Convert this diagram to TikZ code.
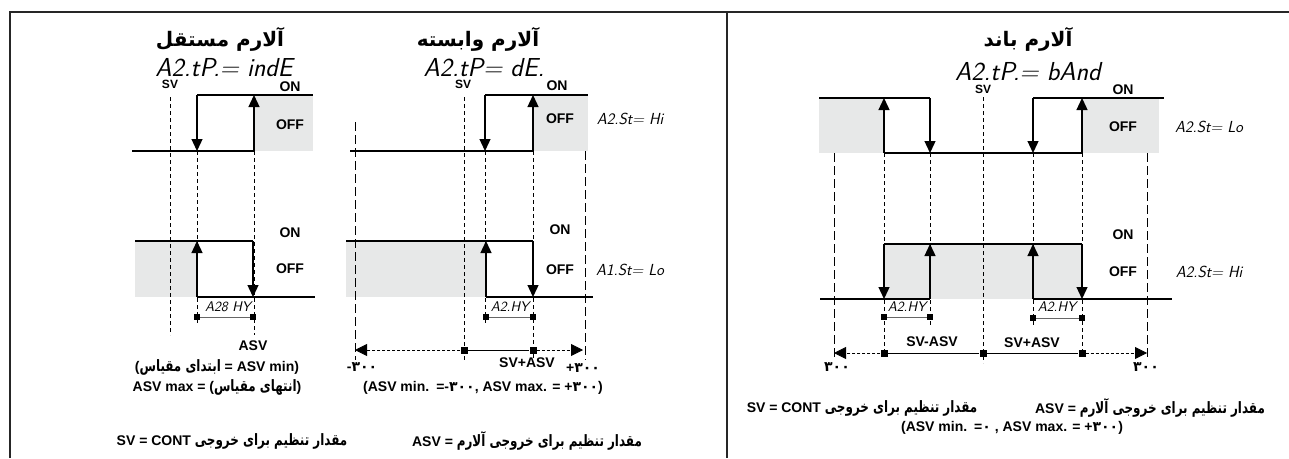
\documentclass[tikz,border=0pt]{standalone}
\usepackage{fontspec}
\setmainfont{Liberation Sans}
\newfontfamily\fafont[Script=Arabic]{DejaVu Sans}
\newfontfamily\fanarrow[Script=Arabic, Scale=1.12, FakeStretch=0.76]{DejaVu Sans}
\TeXXeTstate=1
\usepackage{tikz}
\usetikzlibrary{arrows.meta}
\definecolor{bandgray}{RGB}{231,232,232}
\newcommand{\fatext}[1]{{\fanarrow\beginR #1\endR}}
\newcommand{\fanum}[1]{{\fafont #1}}

\begin{document}
\begin{tikzpicture}[x=1pt, y=-1pt,
    trace/.style={line width=1.3pt},
    flip/.style={line width=1.3pt, -{Triangle[length=12pt,width=11pt]}},
    guide/.style={line width=0.7pt, dash pattern=on 4pt off 3pt},
    farguide/.style={line width=0.7pt, dash pattern=on 9pt off 4pt},
    band/.style={fill=bandgray},
    tag/.style={font=\bfseries\fontsize{14}{16}\selectfont, inner sep=0pt},
    svtag/.style={font=\bfseries\fontsize{12}{14}\selectfont, inner sep=0pt},
    title/.style={font=\fafont\bfseries\fontsize{20}{24}\selectfont, inner sep=0pt},
    segtitle/.style={font=\sffamily\slshape\fontsize{26}{28}\selectfont, inner sep=0pt, anchor=base},
    segtag/.style={font=\sffamily\slshape\fontsize{16}{18}\selectfont, inner sep=0pt},
    hytag/.style={font=\sffamily\slshape\fontsize{14}{16}\selectfont, inner sep=0pt},
    sqr/.style={fill, rectangle, inner sep=0pt, minimum size=6pt},
    hyline/.style={line width=0.8pt, black!60},
    scaleline/.style={line width=1pt},
    scaletip/.style={line width=0.8pt, dash pattern=on 3pt off 2pt, -{Triangle[length=12pt,width=12pt]}}]
    \useasboundingbox (0,0) rectangle (1289,458);

    % frame
    \draw[line width=1.6pt, black!85] (10,458) -- (10,12) -- (1289,12);
    \draw[line width=1.6pt, black!85] (727,12) -- (727,458);

    % independent alarm
    \fill[band] (254,95) rectangle (313,151);
    \fill[band] (135,241) rectangle (197,297);
    \draw[guide] (170,97) -- (170,335);
    \draw[guide] (197,151) -- (197,323);
    \draw[guide] (254,151) -- (254,335);
    \draw[trace] (132,151) -- (254,151);
    \draw[trace] (197,95) -- (313,95);
    \draw[flip] (254,151) -- (254,95);
    \draw[flip] (197,95) -- (197,151);
    \draw[trace] (135,241) -- (253,241);
    \draw[trace] (197,297) -- (315,297);
    \draw[flip] (197,297) -- (197,241);
    \draw[flip] (253,241) -- (253,297);

    \node[title] (title1) at (220,39) {\beginR آلارم مستقل\endR};
    \node[segtitle] (type1) at (224,76) {A2.tP.= indE};
    \node[svtag] (sv1) at (170,84) {SV};
    \node[tag] (on1a) at (290,87) {ON};
    \node[tag] (off1a) at (290,125) {OFF};
    \node[tag] (on1b) at (290,233) {ON};
    \node[tag] (off1b) at (290,269) {OFF};
    \node[hytag] (hy1) at (228,307) {A28 HY};
    \node[sqr] (hy1l) at (197,317) {};
    \node[sqr] (hy1r) at (253,317) {};
    \draw[hyline] (hy1l) -- (hy1r);
    \node[tag] (asv1) at (253,346) {ASV};
    \node[tag] (min1) at (217,367) {(\fatext{ابتدای مقیاس} = ASV min)};
    \node[tag] (max1) at (217,387) {ASV max = (\fatext{انتهای مقیاس})};
    \node[tag] (cont1) at (232,441) {SV = CONT \fatext{مقدار تنظیم برای خروجی}};

    % dependent alarm
    \fill[band] (533,95) rectangle (588,151);
    \fill[band] (346,241) rectangle (486,297);
    \draw[farguide] (355,122) -- (355,360);
    \draw[farguide] (585,151) -- (585,360);
    \draw[guide] (464,97) -- (464,360);
    \draw[guide] (485,151) -- (485,323);
    \draw[guide] (533,151) -- (533,360);
    \draw[trace] (350,151) -- (533,151);
    \draw[trace] (485,95) -- (588,95);
    \draw[flip] (533,151) -- (533,95);
    \draw[flip] (485,95) -- (485,151);
    \draw[trace] (346,241) -- (533,241);
    \draw[trace] (486,297) -- (593,297);
    \draw[flip] (486,297) -- (486,241);
    \draw[flip] (533,241) -- (533,297);

    \node[title] (title2) at (478,39) {\beginR آلارم وابسته\endR};
    \node[segtitle] (type2) at (484,76) {A2.tP= dE.};
    \node[svtag] (sv2) at (463,84) {SV};
    \node[tag] (on2a) at (557,86) {ON};
    \node[tag] (off2a) at (560,119) {OFF};
    \node[segtag] (st2a) at (630,119) {A2.St= Hi};
    \node[tag] (on2b) at (560,230) {ON};
    \node[tag] (off2b) at (560,270) {OFF};
    \node[segtag] (st2b) at (630,270) {A1.St= Lo};
    \node[hytag] (hy2) at (510,307) {A2.HY};
    \node[sqr] (hy2l) at (486,317) {};
    \node[sqr] (hy2r) at (533,317) {};
    \draw[hyline] (hy2l) -- (hy2r);
    \coordinate (lo2) at (355,350);
    \coordinate (hi2) at (583,350);
    \node[sqr, minimum size=7pt] (sv2s) at (464,350) {};
    \node[sqr, minimum size=7pt] (asv2s) at (533,350) {};
    \draw[scaleline] (sv2s) -- (asv2s);
    \draw[scaletip] (sv2s) -- (lo2);
    \draw[scaletip] (asv2s) -- (hi2);
    \node[tag] (neg2) at (362,367) {-\fanum{۳۰۰}};
    \node[tag] (sum2) at (527,363) {SV+ASV};
    \node[tag] (pos2) at (583,368) {+\fanum{۳۰۰}};
    \node[tag] (range2) at (483,388) {(ASV min.\enspace=-\fanum{۳۰۰}, ASV max. = +\fanum{۳۰۰})};
    \node[tag] (asvtxt2) at (527,441) {ASV = \fatext{مقدار تنظیم برای خروجی آلارم}};

    % band alarm
    \fill[band] (819,98) rectangle (884,153);
    \fill[band] (1082,98) rectangle (1159,153);
    \fill[band] (884,244) rectangle (1082,299);
    \draw[farguide] (834,153) -- (834,357);
    \draw[guide] (884,153) -- (884,357);
    \draw[guide] (930,153) -- (930,327);
    \draw[guide] (983,97) -- (983,363);
    \draw[guide] (1033,153) -- (1033,327);
    \draw[guide] (1082,153) -- (1082,357);
    \draw[farguide] (1147,153) -- (1147,357);
    \draw[trace] (819,98) -- (930,98);
    \draw[trace] (1033,98) -- (1164,98);
    \draw[trace] (884,153) -- (1082,153);
    \draw[flip] (884,153) -- (884,98);
    \draw[flip] (930,98) -- (930,153);
    \draw[flip] (1033,98) -- (1033,153);
    \draw[flip] (1082,153) -- (1082,98);
    \draw[trace] (884,244) -- (1082,244);
    \draw[trace] (820,299) -- (930,299);
    \draw[trace] (1033,299) -- (1172,299);
    \draw[flip] (884,244) -- (884,299);
    \draw[flip] (930,299) -- (930,244);
    \draw[flip] (1033,299) -- (1033,244);
    \draw[flip] (1082,244) -- (1082,299);

    \node[title] (title3) at (1028,39) {\beginR آلارم باند\endR};
    \node[segtitle] (type3) at (1028,80) {A2.tP.= bAnd};
    \node[svtag] (sv3) at (983,89) {SV};
    \node[tag] (on3a) at (1123,90) {ON};
    \node[tag] (off3a) at (1123,127) {OFF};
    \node[segtag] (st3a) at (1209,127) {A2.St= Lo};
    \node[tag] (on3b) at (1123,235) {ON};
    \node[tag] (off3b) at (1123,272) {OFF};
    \node[segtag] (st3b) at (1209,272) {A2.St= Hi};
    \node[hytag] (hy3a) at (907,307) {A2.HY};
    \node[hytag] (hy3b) at (1057,307) {A2.HY};
    \node[sqr] (hy3al) at (884,317) {};
    \node[sqr] (hy3ar) at (930,317) {};
    \node[sqr] (hy3bl) at (1033,318) {};
    \node[sqr] (hy3br) at (1082,318) {};
    \draw[hyline] (hy3al) -- (hy3ar);
    \draw[hyline] (hy3bl) -- (hy3br);
    \coordinate (lo3) at (834,353);
    \coordinate (hi3) at (1147,353);
    \node[sqr, minimum size=7pt] (low3s) at (884,353) {};
    \node[sqr, minimum size=7pt] (sv3s) at (983,353) {};
    \node[sqr, minimum size=7pt] (high3s) at (1082,353) {};
    \draw[scaleline] (low3s) -- (sv3s) -- (high3s);
    \draw[scaletip] (low3s) -- (lo3);
    \draw[scaletip] (high3s) -- (hi3);
    \node[tag] (dif3) at (932,342) {SV-ASV};
    \node[tag] (sum3) at (1032,343) {SV+ASV};
    \node[tag] (neg3) at (837,367) {\fanum{۳۰۰}};
    \node[tag] (pos3) at (1146,367) {\fanum{۳۰۰}};
    \node[tag] (cont3) at (862,408) {SV = CONT \fatext{مقدار تنظیم برای خروجی}};
    \node[tag] (asvtxt3) at (1150,408) {ASV = \fatext{مقدار تنظیم برای خروجی آلارم}};
    \node[tag] (range3) at (1012,428) {(ASV min.\enspace=\fanum{۰} , ASV max. = +\fanum{۳۰۰})};
\end{tikzpicture}
\end{document}
